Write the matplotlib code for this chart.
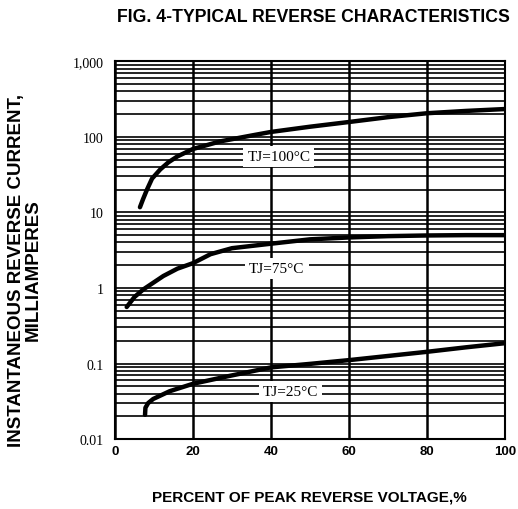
import numpy as np
import matplotlib
matplotlib.use("Agg")
import matplotlib.pyplot as plt
from matplotlib.ticker import LogLocator, FixedLocator, NullFormatter

# percent of peak reverse voltage (%), current (mA)
v_100 = [6.4, 7.2, 8.2, 9.5, 11.6, 13.7, 16, 20, 27, 35, 40, 50, 60, 70, 80, 90, 100]
i_100 = [11.7, 15, 20, 28, 37, 46, 55, 69, 87, 104, 116, 136, 157, 182, 205, 220, 233]

v_75 = [3.0, 5, 7.3, 12.4, 16, 20, 24.5, 30, 39, 50, 60, 70, 80, 90, 100]
i_75 = [0.56, 0.76, 0.96, 1.44, 1.8, 2.13, 2.8, 3.36, 3.8, 4.4, 4.66, 4.85, 4.95, 5.0, 5.0]

v_25 = [7.7, 7.8, 8.5, 9.8, 14, 20, 29, 40, 50, 60, 70, 80, 90, 100]
i_25 = [0.021, 0.026, 0.030, 0.034, 0.043, 0.054, 0.068, 0.089, 0.099, 0.111, 0.126, 0.143, 0.164, 0.186]

labels = ["TJ=100°C", "TJ=75°C", "TJ=25°C"]
label_pos = [(42, 55), (41.5, 1.8), (45, 0.043)]

x_ticks = [0, 20, 40, 60, 80, 100]
y_ticks = [0.01, 0.1, 1, 10, 100, 1000]
y_ticklabels = ["0.01", "0.1", "1", "10", "100", "1,000"]

fig = plt.figure(figsize=(5.18, 5.10), dpi=100)
ax = fig.add_axes([0.222, 0.137, 0.753, 0.741])

ax.set_yscale("log")
ax.set_xlim(0, 100)
ax.set_ylim(0.01, 1000)

ax.yaxis.set_major_locator(FixedLocator(y_ticks))
ax.yaxis.set_minor_locator(LogLocator(base=10, subs=np.arange(2, 10)))
ax.yaxis.set_minor_formatter(NullFormatter())
ax.set_yticklabels(y_ticklabels, fontfamily="Liberation Serif", fontsize=10)
ax.set_xticks(x_ticks)
ax.set_xticklabels([str(t) for t in x_ticks], fontfamily="Liberation Sans",
                   fontweight="bold", fontsize=9.5)
ax.tick_params(which="both", length=0)
ax.tick_params(axis="y", pad=8)
ax.tick_params(axis="x", pad=4)

ax.grid(True, which="major", axis="x", color="black", lw=1.8)
ax.grid(True, which="both", axis="y", color="black", lw=1.2)
for s in ax.spines.values():
    s.set_linewidth(1.5)

for v, i in [(v_100, i_100), (v_75, i_75), (v_25, i_25)]:
    ax.plot(v, i, color="black", lw=3.2, solid_capstyle="round", zorder=4)

for txt, (x, y) in zip(labels, label_pos):
    ax.text(x, y, txt, ha="center", va="center", fontfamily="Liberation Serif",
            fontsize=11, zorder=5,
            bbox=dict(facecolor="white", edgecolor="none", pad=3))

fig.text(0.606, 0.966, "FIG. 4-TYPICAL REVERSE CHARACTERISTICS", ha="center",
         va="center", fontfamily="Liberation Sans", fontweight="bold", fontsize=12.7)
fig.text(0.598, 0.025, "PERCENT OF PEAK REVERSE VOLTAGE,%", ha="center",
         va="center", fontfamily="Liberation Sans", fontweight="bold", fontsize=11)
fig.text(0.048, 0.47, "INSTANTANEOUS REVERSE CURRENT,\nMILLIAMPERES", ha="center",
         va="center", rotation=90, fontfamily="Liberation Sans", fontweight="bold",
         fontsize=13.5, linespacing=0.95)

fig.savefig("out.png", dpi=100)
